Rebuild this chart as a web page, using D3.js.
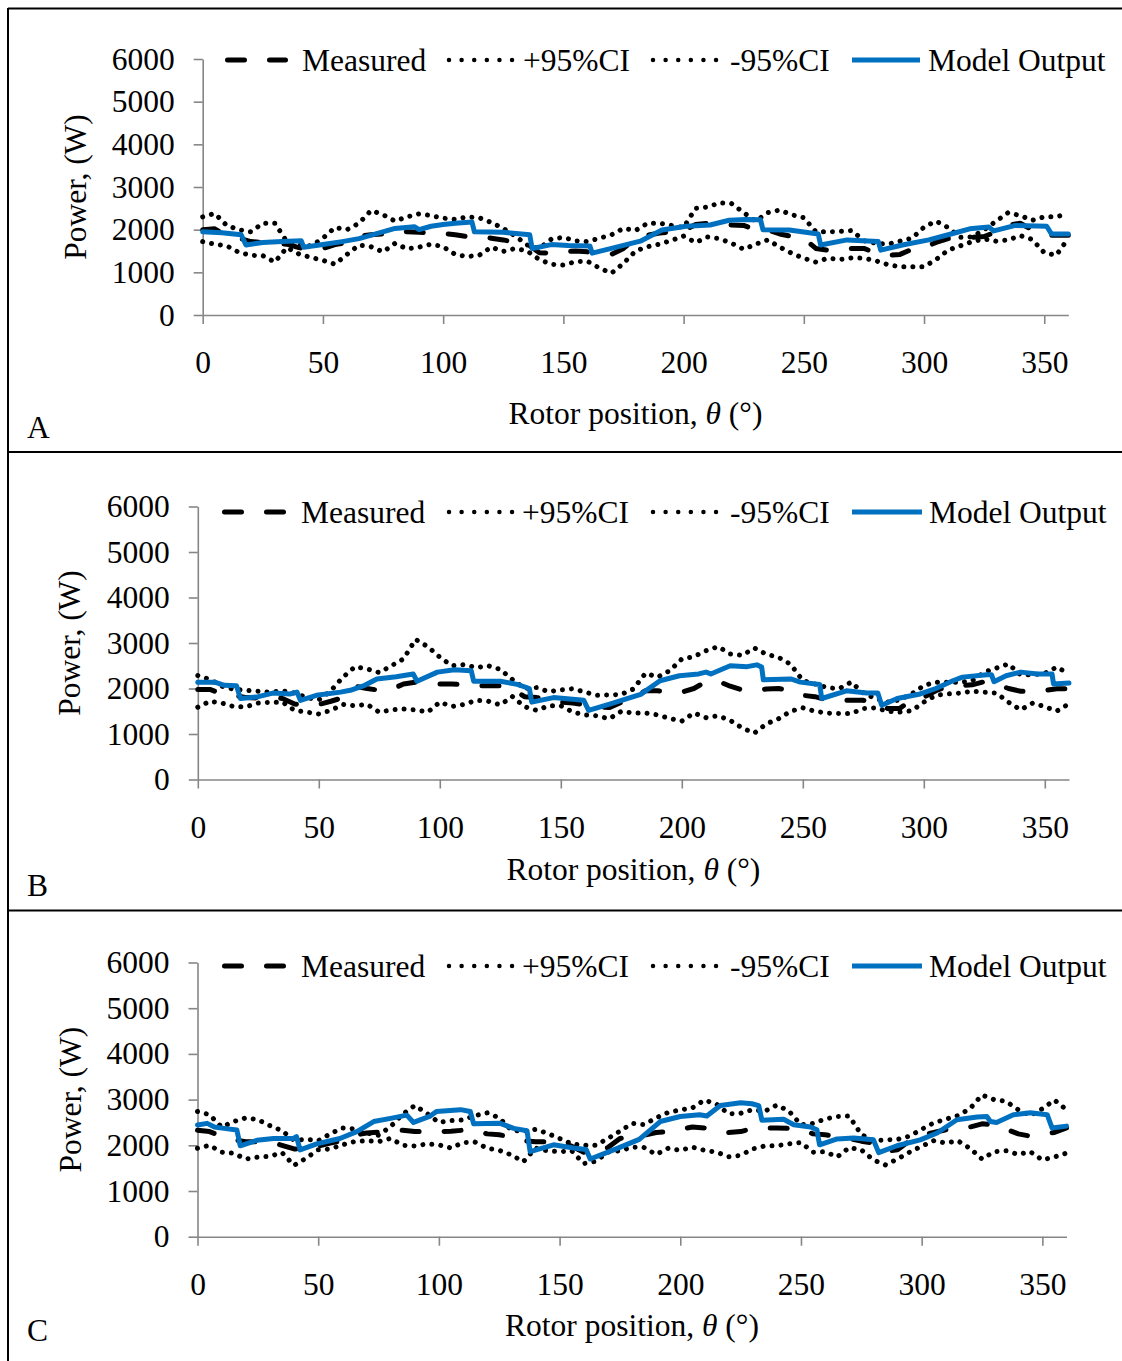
<!DOCTYPE html>
<html>
<head>
<meta charset="utf-8">
<script src="https://cdn.jsdelivr.net/npm/d3@7"></script>
<style>
  body { margin: 0; background: #fff; }
  svg text { font-family: "Liberation Serif", "Times New Roman", serif; }
</style>
</head>
<body>
<svg id="fig" width="1122" height="1361"></svg>
<script>
// Rotor angle (deg) at which measured power and its confidence bounds are sampled
const ANGLES = [0,5,10,15,20,25,30,35,40,45,50,55,60,65,70,75,80,85,90,95,100,105,110,115,
  120,125,130,135,140,145,150,155,160,165,170,175,180,185,190,195,200,205,210,215,220,225,230,235,
  240,245,250,255,260,265,270,275,280,285,290,295,300,305,310,315,320,325,330,335,340,345,350,355,360];

const X_TICKS = [0, 50, 100, 150, 200, 250, 300, 350];
const Y_TICKS = [0, 1000, 2000, 3000, 4000, 5000, 6000];
const LEGEND_LABELS = ["Measured", "+95%CI", "-95%CI", "Model Output"];
const PANEL_LETTERS = ["A", "B", "C"];

// ---- Case A (W) ----
const A_MEASURED = [2000,2020,1850,1800,1720,1700,1680,1660,1580,1520,1560,1650,
  1700,1850,1880,1900,1960,1950,1940,1920,1910,1880,1840,1830,
  1800,1760,1700,1660,1460,1450,1480,1500,1480,1430,1420,1560,
  1800,1870,1920,1950,1980,2120,2150,2130,2110,2100,2000,1990,
  1900,1840,1800,1560,1520,1540,1560,1560,1450,1400,1420,1540,
  1580,1700,1790,1800,1820,1840,1950,2100,2150,2000,1870,1870,1870];
const A_UPPER_CI = [2300,2380,2100,2000,1950,2150,2150,1720,1650,1620,1800,2050,
  2000,2150,2450,2350,2200,2300,2370,2330,2270,2240,2300,2280,
  2170,2030,1850,1640,1560,1780,1820,1740,1720,1800,1880,2030,
  1980,2150,2150,2100,2050,2500,2530,2630,2610,2400,2200,2400,
  2460,2350,2280,1950,1950,1960,1980,1740,1680,1660,1730,1800,
  2060,2200,2050,1820,1830,2000,2200,2400,2330,2220,2300,2300,2380];
const A_LOWER_CI = [1720,1660,1620,1470,1400,1390,1240,1580,1430,1350,1280,1190,
  1420,1640,1600,1480,1680,1550,1590,1660,1600,1420,1370,1400,
  1590,1490,1560,1500,1300,1190,1170,1250,1260,1100,980,1210,
  1500,1600,1660,1750,1850,1700,1830,1790,1680,1540,1660,1760,
  1590,1445,1330,1240,1330,1300,1340,1330,1270,1180,1130,1130,
  1130,1300,1520,1620,1720,1780,1730,1760,1860,1770,1460,1400,1800];
const A_MODEL_ANGLES = [0,8,16,18,25,33,41,42,50,58,65,72,80,88,90,95,100,105,112,113,
  125,136,137,145,152,161,162,170,182,191,201,211,219,226,232,233,244,256,257,268,
  281,282,291,302,312,319,327,329,338,351,353,360];
const A_MODEL_POWER = [1950,1930,1880,1640,1700,1720,1740,1590,1650,1720,1790,1900,2030,2070,2000,2080,2120,2150,2180,1950,
  1940,1880,1560,1650,1630,1620,1450,1560,1730,1990,2080,2110,2220,2240,2230,2000,1990,1900,1640,1760,
  1720,1520,1640,1760,1910,2020,2060,1970,2100,2080,1900,1900];

// ---- Case B (W) ----
const B_MEASURED = [1980,1980,1880,1850,1800,1790,1800,1780,1660,1620,1650,1720,
  1800,2050,2000,1960,1980,2100,2140,2120,2100,2100,2080,2060,
  2060,2060,2000,1820,1800,1760,1700,1680,1640,1600,1580,1700,
  1800,1950,1950,1920,1920,2000,2150,2160,2050,1970,1960,1990,
  2000,1950,1850,1820,1750,1740,1740,1740,1700,1560,1560,1750,
  1810,1950,2050,2060,2080,2150,2100,2000,1940,1940,1960,1995,1995];
const B_UPPER_CI = [2285,2200,2050,1980,1960,1940,1920,1950,1900,1800,1750,1950,
  2250,2480,2430,2350,2500,2650,3080,2920,2690,2500,2525,2460,
  2500,2420,2200,2000,2020,1930,1970,1995,1920,1850,1860,1870,
  1990,2335,2250,2390,2650,2700,2830,2920,2760,2730,2890,2750,
  2685,2530,2175,2100,2020,1995,2140,1900,1780,1700,1750,1880,
  2065,2140,2140,2140,2170,2360,2450,2540,2300,2300,2335,2470,2320];
const B_LOWER_CI = [1590,1720,1680,1600,1600,1680,1700,1700,1520,1480,1440,1520,
  1650,1620,1650,1480,1530,1550,1530,1480,1700,1605,1650,1740,
  1720,1640,1825,1600,1520,1620,1620,1480,1420,1400,1335,1500,
  1460,1460,1420,1340,1285,1460,1360,1400,1300,1130,1020,1225,
  1335,1500,1575,1500,1460,1450,1450,1560,1575,1500,1480,1510,
  1700,1850,1880,1900,1940,1920,1900,1700,1530,1680,1600,1505,1665];
const B_MODEL_ANGLES = [0,7,11,16,17.6,25,31,38,41,42.4,49,59,63,69,74,82,89,90.6,99,106,
  113,114,125,132,137,138,147,159.5,161.5,170.5,183,191,199,207,210,212,220,227,231,233,
  233.7,245,249,257,257.8,268,276.5,281,282.6,289,298.5,305,312,316,326,328,329,334,340,347,
  353,353.6,360];
const B_MODEL_POWER = [2140,2140,2070,2060,1780,1820,1900,1880,1920,1740,1850,1920,1960,2070,2210,2260,2320,2160,2360,2410,
  2390,2160,2160,2090,2000,1700,1800,1740,1520,1660,1870,2170,2280,2320,2360,2320,2500,2480,2520,2470,
  2190,2210,2140,2090,1780,1950,1900,1900,1630,1780,1880,2000,2170,2250,2300,2300,2150,2280,2360,2320,
  2320,2100,2120];

// ---- Case C (W) ----
const C_MEASURED = [2330,2300,2200,2120,2080,2080,2070,2000,1920,1900,1980,2050,
  2100,2220,2270,2290,2330,2330,2300,2300,2300,2310,2330,2320,
  2250,2230,2180,2100,2080,2080,2060,1980,1850,1820,1950,2150,
  2200,2220,2280,2300,2350,2400,2380,2300,2280,2300,2370,2380,
  2380,2370,2350,2250,2230,2200,2150,2090,2050,1870,1900,2100,
  2230,2280,2340,2350,2400,2470,2450,2350,2250,2200,2250,2280,2380];
const C_UPPER_CI = [2740,2670,2400,2520,2600,2560,2430,2320,2110,2130,2100,2250,
  2380,2360,2270,2220,2410,2680,2870,2700,2500,2540,2555,2650,
  2710,2600,2335,2300,2350,2260,2150,2030,2000,2000,2150,2310,
  2480,2450,2600,2720,2775,2820,2990,2900,2690,2700,2780,2745,
  2880,2750,2450,2480,2575,2630,2640,2235,2100,2120,2130,2200,
  2350,2490,2570,2650,2800,3100,3000,2960,2780,2650,2800,2990,2780];
const C_LOWER_CI = [1935,2000,1850,1825,1700,1740,1760,1840,1560,1720,1900,1920,
  2010,2080,2100,2080,2150,2000,1985,2030,2010,1940,2060,2070,
  1935,1890,1790,1640,1940,1880,1860,1880,1600,1650,1850,1880,
  1960,1950,1800,1935,1890,1960,1890,1850,1750,1780,1920,1985,
  1990,2030,2060,1850,1860,1745,1950,1900,1680,1570,1700,1850,
  1980,2100,2050,2100,1935,1700,1860,1880,1800,1860,1680,1745,1830];
const C_MODEL_ANGLES = [0,4,7,11,16.3,17.7,24.6,31.5,39.8,41,42.5,49.4,59,66,73,80,86.7,89.5,96.4,99,
  104.7,109,113,114.4,125.4,131,136.5,137.8,147.5,155.8,161,162.7,172.4,183,191.7,200,208,211,216.6,225,
  229.7,232.5,233.8,242.8,247,254,256.6,257.7,265,271.8,280,282.2,289.8,299.4,306.4,314.6,323,327,328.5,331,
  338,345,352,354,360];
const C_MODEL_POWER = [2445,2480,2400,2370,2335,1990,2110,2150,2150,2190,1900,2030,2150,2300,2520,2590,2660,2500,2640,2740,
  2760,2780,2740,2470,2480,2370,2320,1860,2010,1940,1910,1700,1900,2130,2520,2630,2670,2640,2870,2930,
  2910,2870,2550,2570,2450,2400,2340,2010,2140,2160,2120,1840,1990,2120,2270,2560,2620,2630,2520,2500,
  2670,2710,2670,2380,2420];

// ---- drawing ----
const AXIS_GREY = "#868686";
const BLUE = "#0070C0";
const FONT = 31.5;

const svg = d3.select("#fig");
svg.append("rect").attr("width", 1122).attr("height", 1361).attr("fill", "#fff");

// figure frame: left and top edges plus the separators between cases
const frame = svg.append("g").attr("stroke", "#000").attr("stroke-width", 2);
frame.append("line").attr("x1", 8).attr("y1", 8).attr("x2", 8).attr("y2", 1361);
frame.append("line").attr("x1", 8).attr("y1", 8.5).attr("x2", 1122).attr("y2", 8.5);
frame.append("line").attr("x1", 8).attr("y1", 452).attr("x2", 1122).attr("y2", 452);
frame.append("line").attr("x1", 8).attr("y1", 910.5).attr("x2", 1122).attr("y2", 910.5);

const layouts = [
  { left: 202.7, right: 1068.3, top: 59, bottom: 315, legendY: 60, yTitleX: 86, xTitleY: 424, letterY: 438,
    swatch: [[227.5, 285.5], [449, 513.5], [653, 717.5], [852, 920]], textX: [302, 523, 730, 928] },
  { left: 197.8, right: 1069, top: 506.5, bottom: 779.5, legendY: 512, yTitleX: 80, xTitleY: 880, letterY: 896,
    swatch: [[224.5, 284.5], [449, 513.5], [653, 717.5], [852, 922]], textX: [301, 522, 730, 929] },
  { left: 197.5, right: 1066.5, top: 962.5, bottom: 1236.7, legendY: 966, yTitleX: 81, xTitleY: 1336, letterY: 1341,
    swatch: [[224.5, 284.5], [449, 513.5], [653, 717.5], [852, 922]], textX: [301, 522, 730, 929] }
];

const cases = [
  { measured: A_MEASURED, upper: A_UPPER_CI, lower: A_LOWER_CI, mAng: A_MODEL_ANGLES, mPow: A_MODEL_POWER },
  { measured: B_MEASURED, upper: B_UPPER_CI, lower: B_LOWER_CI, mAng: B_MODEL_ANGLES, mPow: B_MODEL_POWER },
  { measured: C_MEASURED, upper: C_UPPER_CI, lower: C_LOWER_CI, mAng: C_MODEL_ANGLES, mPow: C_MODEL_POWER }
];

const styles = {
  measured: { stroke: "#000", width: 5, dash: "17 25", cap: "round" },
  ci: { stroke: "#000", width: 5, dash: "0.01 9", cap: "round" },
  model: { stroke: BLUE, width: 5, dash: null, cap: "round" }
};

function styled(sel, s) {
  return sel.attr("fill", "none")
    .attr("stroke", s.stroke)
    .attr("stroke-width", s.width)
    .attr("stroke-dasharray", s.dash)
    .attr("stroke-linecap", s.cap)
    .attr("stroke-linejoin", "round");
}

cases.forEach((c, i) => {
  const L = layouts[i];
  const g = svg.append("g");
  const x = d3.scaleLinear().domain([0, 360]).range([L.left, L.right]);
  const y = d3.scaleLinear().domain([0, 6000]).range([L.bottom, L.top]);

  // axes
  const yAxis = g.append("g").attr("transform", `translate(${L.left},0)`)
    .call(d3.axisLeft(y).tickValues(Y_TICKS).tickSize(9).tickSizeOuter(0).tickPadding(19).tickFormat(d3.format("d")));
  const xAxis = g.append("g").attr("transform", `translate(0,${L.bottom})`)
    .call(d3.axisBottom(x).tickValues(X_TICKS).tickSize(9).tickSizeOuter(0).tickPadding(27).tickFormat(d3.format("d")));
  [yAxis, xAxis].forEach(ax => {
    ax.attr("font-size", FONT).attr("font-family", "Liberation Serif, Times New Roman, serif");
    ax.select(".domain").attr("stroke", AXIS_GREY).attr("stroke-width", 1.6);
    ax.selectAll(".tick line").attr("stroke", AXIS_GREY).attr("stroke-width", 1.6);
    ax.selectAll(".tick text").attr("fill", "#000");
  });

  // series
  const pts = vals => ANGLES.map((a, k) => [a, vals[k]]);
  const line = d3.line().x(d => x(d[0])).y(d => y(d[1]));
  styled(g.append("path").attr("d", line(pts(c.measured))), styles.measured);
  styled(g.append("path").attr("d", line(pts(c.upper))), styles.ci);
  styled(g.append("path").attr("d", line(pts(c.lower))), styles.ci);
  styled(g.append("path").attr("d", line(c.mAng.map((a, k) => [a, c.mPow[k]]))), styles.model);

  // legend
  const dotKey = { ...styles.ci, width: 4.5, dash: "0.01 12.6" };
  const legendStyles = [styles.measured, dotKey, dotKey, { ...styles.model, cap: "butt" }];
  LEGEND_LABELS.forEach((label, k) => {
    styled(g.append("line")
      .attr("x1", L.swatch[k][0]).attr("x2", L.swatch[k][1])
      .attr("y1", L.legendY).attr("y2", L.legendY), legendStyles[k]);
    g.append("text").attr("x", L.textX[k]).attr("y", L.legendY + 11)
      .attr("font-size", FONT).attr("fill", "#000").text(label);
  });

  // axis titles
  g.append("text")
    .attr("transform", `translate(${L.yTitleX},${(L.top + L.bottom) / 2}) rotate(-90)`)
    .attr("text-anchor", "middle").attr("font-size", FONT).attr("fill", "#000")
    .text("Power, (W)");
  const xt = g.append("text")
    .attr("x", (L.left + L.right) / 2).attr("y", L.xTitleY)
    .attr("text-anchor", "middle").attr("font-size", FONT).attr("fill", "#000");
  xt.append("tspan").text("Rotor position, ");
  xt.append("tspan").attr("font-style", "italic").text("θ");
  xt.append("tspan").text(" (°)");

  // case letter
  g.append("text").attr("x", 27).attr("y", L.letterY)
    .attr("font-size", FONT).attr("fill", "#000").text(PANEL_LETTERS[i]);
});
</script>
</body>
</html>
